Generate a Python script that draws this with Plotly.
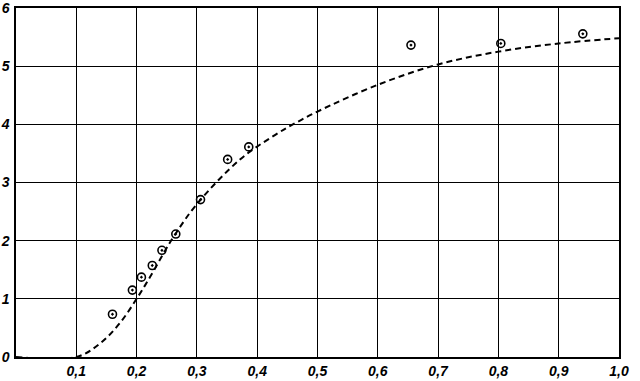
import plotly.graph_objects as go

# measured points (circles)
pts_x = [0.160, 0.193, 0.208, 0.226, 0.242, 0.265, 0.306, 0.351, 0.386, 0.655, 0.804, 0.940]
pts_y = [0.735, 1.150, 1.373, 1.573, 1.834, 2.114, 2.706, 3.397, 3.612, 5.362, 5.390, 5.556]

# dashed fitted curve
curve_x = [0, 0.1, 0.139, 0.172, 0.2, 0.222, 0.244, 0.264, 0.3, 0.372, 0.43, 0.463, 0.5, 0.6, 0.7, 0.8, 0.9, 1.0]
curve_y = [0, 0, 0.23, 0.58, 1.0, 1.37, 1.77, 2.11, 2.63, 3.40, 3.82, 4.02, 4.22, 4.68, 5.03, 5.25, 5.39, 5.48]

x_ticks = [0.1, 0.2, 0.3, 0.4, 0.5, 0.6, 0.7, 0.8, 0.9, 1.0]
x_labels = ["0,1", "0,2", "0,3", "0,4", "0,5", "0,6", "0,7", "0,8", "0,9", "1,0"]
y_ticks = [0, 1, 2, 3, 4, 5, 6]
y_labels = ["0", "1", "2", "3", "4", "5", "6"]

fig = go.Figure()
fig.add_trace(go.Scatter(x=curve_x, y=curve_y, mode="lines", line_shape="spline",
                         line=dict(color="black", width=2, dash="6px,4px"),
                         hoverinfo="skip", showlegend=False))
fig.add_trace(go.Scatter(x=pts_x, y=pts_y, mode="markers",
                         marker=dict(symbol="circle-dot", size=8, color="rgba(0,0,0,0)",
                                     line=dict(color="black", width=1.6)),
                         showlegend=False))

tickfont = dict(family="Liberation Sans", size=14, color="black", weight="bold", style="italic")

fig.update_layout(
    width=640, height=381,
    margin=dict(l=16, r=21, t=8, b=24),
    paper_bgcolor="white", plot_bgcolor="white",
    xaxis=dict(range=[0, 1.0], tickvals=x_ticks, ticktext=x_labels, showgrid=True,
               gridcolor="black", gridwidth=1.3, showline=True, linecolor="black",
               linewidth=1.5, mirror=True, zeroline=False, ticks="", tickfont=tickfont,
               ticklabelstandoff=0, automargin=False, ticklabeloverflow="allow"),
    yaxis=dict(range=[0, 6], tickvals=y_ticks, ticktext=y_labels, showgrid=True,
               gridcolor="black", gridwidth=1.3, showline=True, linecolor="black",
               linewidth=1.5, mirror=True, zeroline=False, ticks="", tickfont=tickfont,
               ticklabelstandoff=2, automargin=False, ticklabeloverflow="allow"),
)
fig.write_html("out.html")
